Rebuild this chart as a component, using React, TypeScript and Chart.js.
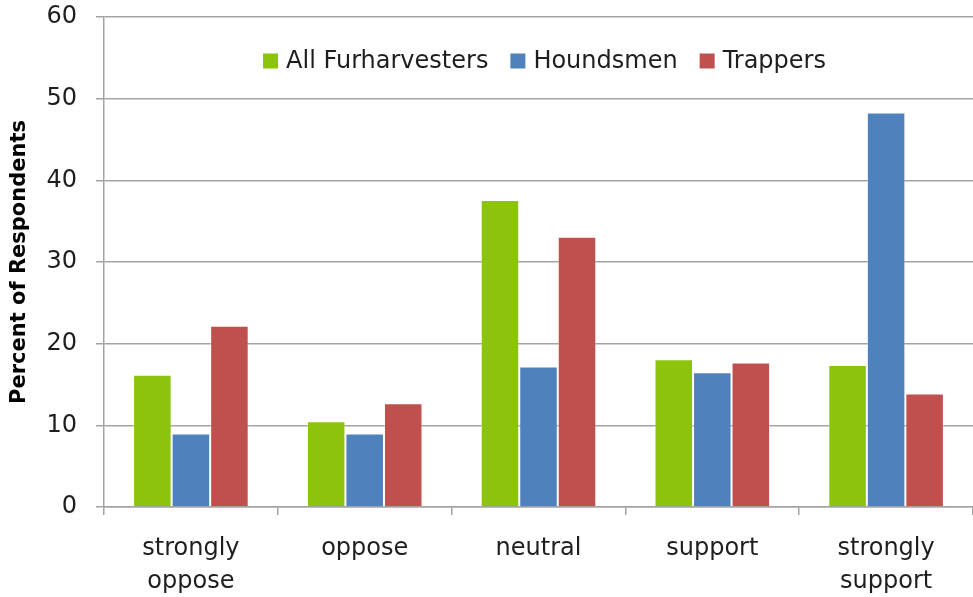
import React, { useEffect, useRef } from 'react';
import { Chart, registerables } from 'chart.js';

Chart.register(...registerables);

const categories: (string | string[])[] = [['strongly', 'oppose'], 'oppose', 'neutral', 'support', ['strongly', 'support']];
const allFurharvesters = [16.2, 10.5, 37.6, 18.1, 17.4];
const houndsmen = [9.0, 9.0, 17.2, 16.5, 48.3];
const trappers = [22.2, 12.7, 33.1, 17.7, 13.9];
const seriesNames = ['All Furharvesters', 'Houndsmen', 'Trappers'];
const seriesColors = ['#8cc40c', '#4f81bd', '#c0504d'];
const yTicks = [0, 10, 20, 30, 40, 50, 60];
const yTitle = 'Percent of Respondents';

const FONT = '"DejaVu Sans", "Open Sans", sans-serif';
const GRID = '#a3a3a3';
const TEXT = '#1e1e1e';

const legendPlugin = {
  id: 'insideLegend',
  afterDraw(chart: any) {
    const { ctx, chartArea } = chart;
    ctx.save();
    ctx.font = `24px ${FONT}`;
    ctx.textBaseline = 'middle';
    ctx.textAlign = 'left';
    const box = 15;
    const boxGap = 8;
    const itemGap = 22;
    const widths = seriesNames.map((n) => ctx.measureText(n).width);
    const total = widths.reduce((a, w) => a + box + boxGap + w, 0) + itemGap * (seriesNames.length - 1);
    let x = (chartArea.left + chartArea.right) / 2 + 6 - total / 2;
    const y = chartArea.top + 44;
    seriesNames.forEach((n, i) => {
      ctx.fillStyle = seriesColors[i];
      ctx.fillRect(x, y - box / 2, box, box);
      ctx.fillStyle = TEXT;
      ctx.fillText(n, x + box + boxGap, y + 1);
      x += box + boxGap + widths[i] + itemGap;
    });
    ctx.restore();
  },
};

export default function App() {
  const ref = useRef<HTMLCanvasElement | null>(null);
  useEffect(() => {
    if (!ref.current) return;
    const data = [allFurharvesters, houndsmen, trappers];
    const chart = new Chart(ref.current, {
      type: 'bar',
      data: {
        labels: categories,
        datasets: seriesNames.map((name, i) => ({
          label: name,
          data: data[i],
          backgroundColor: seriesColors[i],
          borderColor: 'rgba(255,255,255,0.35)',
          borderWidth: 1,
          categoryPercentage: 0.665,
          barPercentage: 1,
        })),
      },
      options: {
        responsive: false,
        animation: false,
        layout: { padding: { top: 17, right: 0, bottom: 0, left: 0 } },
        plugins: { legend: { display: false }, tooltip: { enabled: false } },
        scales: {
          x: {
            grid: { display: true, offset: true, drawOnChartArea: false, tickLength: 8, color: GRID, lineWidth: 1.5 },
            border: { display: true, color: GRID, width: 1.5 },
            ticks: { font: { family: FONT, size: 24, lineHeight: 1.375 }, color: TEXT, padding: 17, maxRotation: 0 },
            afterFit: (s: any) => { s.height = 90; },
          },
          y: {
            min: 0,
            max: 60,
            afterBuildTicks: (s: any) => { s.ticks = yTicks.map((v) => ({ value: v })); },
            grid: { color: GRID, lineWidth: 1.5, tickLength: 8 },
            border: { display: true, color: GRID, width: 1.5 },
            ticks: { font: { family: FONT, size: 24 }, color: TEXT, padding: 19 },
            title: {
              display: true,
              text: yTitle,
              font: { family: FONT, size: 21, weight: 'bold' },
              color: '#000',
              padding: { top: 7, bottom: 0 },
            },
            afterFit: (s: any) => { s.width = 104; s.paddingTop = 0; s.paddingBottom = 0; },
          },
        },
      },
      plugins: [legendPlugin],
    });
    return () => chart.destroy();
  }, []);
  return (
    <div style={{ position: 'fixed', left: 0, top: 0, width: 973, height: 597, background: '#fff' }}>
      <canvas ref={ref} width={973} height={597} style={{ display: 'block' }} />
    </div>
  );
}
